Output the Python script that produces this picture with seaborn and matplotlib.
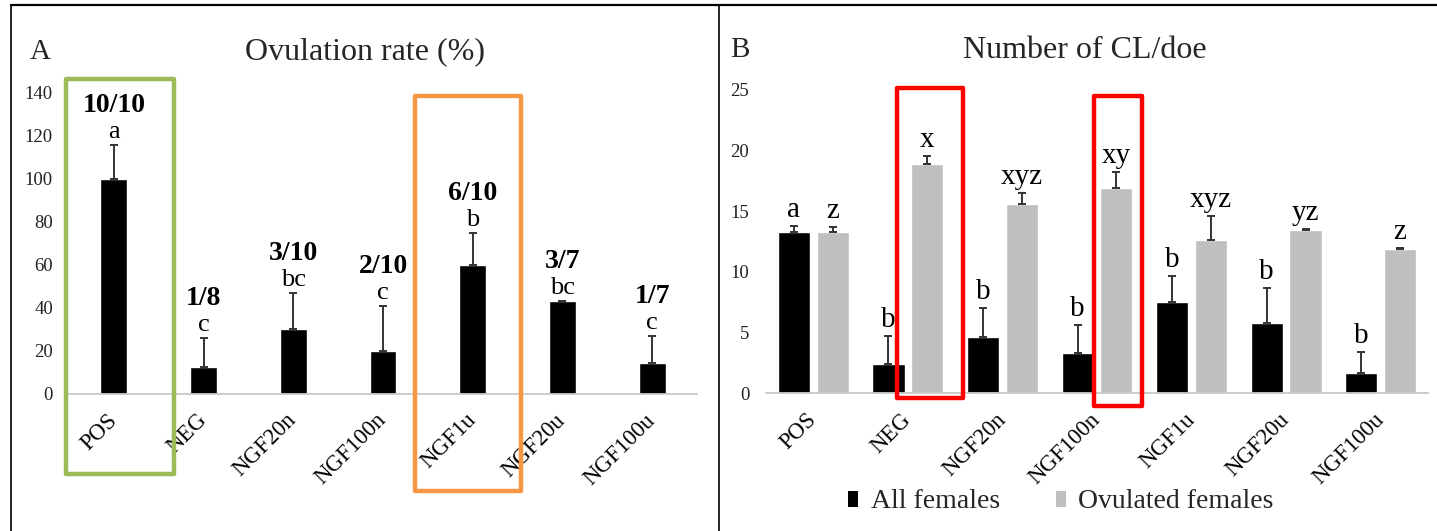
import numpy as np
import pandas as pd
import matplotlib
matplotlib.use("Agg")
import matplotlib.pyplot as plt
from matplotlib.patches import Rectangle, Patch
from matplotlib.lines import Line2D
import seaborn as sns

# ---------------- data ----------------
groups = ["POS", "NEG", "NGF20n", "NGF100n", "NGF1u", "NGF20u", "NGF100u"]

ovulation_rate = [100, 12.5, 30, 20, 60, 42.9, 14.3]
ovulation_err = [15.8, 13.4, 17, 20.5, 14.8, 0.3, 12.5]
ovulation_frac = ["10/10", "1/8", "3/10", "2/10", "6/10", "3/7", "1/7"]
ovulation_letters = ["a", "c", "bc", "c", "b", "bc", "c"]

series_names = ["All females", "Ovulated females"]
cl_all = [13.3, 2.4, 4.6, 3.3, 7.5, 5.8, 1.7]
cl_all_err = [0.45, 2.35, 2.45, 2.3, 2.2, 2.9, 1.7]
cl_all_letters = ["a", "b", "b", "b", "b", "b", "b"]
cl_ov = [13.3, 18.9, 15.6, 16.9, 12.6, 13.5, 11.9]
cl_ov_err = [0.4, 0.65, 0.95, 1.3, 2.0, 0.05, 0.05]
cl_ov_letters = ["z", "x", "xyz", "xy", "xyz", "yz", "z"]

yticks_a = [0, 20, 40, 60, 80, 100, 120, 140]
yticks_b = [0, 5, 10, 15, 20, 25]

# ---------------- style ----------------
sns.set_theme(style="white")
plt.rcParams["font.family"] = ["Liberation Serif", "DejaVu Serif"]

W, H = 1437, 531
fig = plt.figure(figsize=(W / 100, H / 100), dpi=100)

def fx(px):
    return px / W

def fy(py):
    return 1 - py / H

axA = fig.add_axes([fx(69), fy(393.5), fx(697) - fx(69), fy(92.7) - fy(393.5)])
axB = fig.add_axes([fx(766), fy(393.3), fx(1428) - fx(766), fy(90) - fy(393.3)])

GRAY = "#bfbfbf"
ERRC = "#333333"

# ---------------- panel A ----------------
df_a = pd.DataFrame({"group": groups, "rate": ovulation_rate})
sns.barplot(data=df_a, x="group", y="rate", color="black", saturation=1,
            width=0.3, errorbar=None, ax=axA)
xa = np.arange(len(groups))
axA.errorbar(xa, ovulation_rate, yerr=[np.zeros(len(xa)), ovulation_err],
             fmt="none", ecolor=ERRC, elinewidth=1.4, capsize=3, capthick=1.4)
for i in range(len(groups)):
    top = ovulation_rate[i] + ovulation_err[i]
    axA.annotate(ovulation_letters[i], (xa[i], top), xytext=(0, 2),
                 textcoords="offset pixels", ha="center", va="bottom",
                 fontsize=19, color="black")
    axA.annotate(ovulation_frac[i], (xa[i], top), xytext=(0, 27),
                 textcoords="offset pixels", ha="center", va="bottom",
                 fontsize=20, fontweight="bold", color="black")
axA.set_ylim(0, 140)
axA.set_yticks(yticks_a)
axA.set_xlim(-0.5, len(groups) - 0.5)

# ---------------- panel B ----------------
df_b = pd.DataFrame({
    "group": groups * 2,
    "cl": cl_all + cl_ov,
    "series": [series_names[0]] * len(groups) + [series_names[1]] * len(groups),
})
sns.barplot(data=df_b, x="group", y="cl", hue="series", hue_order=series_names,
            palette=["black", GRAY], saturation=1, width=0.82, gap=0.17,
            errorbar=None, legend=False, ax=axB)
for cont, vals, errs, lets in zip(axB.containers, [cl_all, cl_ov],
                                  [cl_all_err, cl_ov_err],
                                  [cl_all_letters, cl_ov_letters]):
    xs = [p.get_x() + p.get_width() / 2 for p in cont.patches]
    axB.errorbar(xs, vals, yerr=[np.zeros(len(xs)), errs], fmt="none",
                 ecolor=ERRC, elinewidth=1.4, capsize=3, capthick=1.4)
    for x, v, e, l in zip(xs, vals, errs, lets):
        axB.annotate(l, (x, v + e), xytext=(0, 3), textcoords="offset pixels",
                     ha="center", va="bottom", fontsize=21, color="black")
axB.set_ylim(0, 25)
axB.set_yticks(yticks_b)
axB.set_xlim(-0.5, len(groups) - 0.5)

# ---------------- common axes styling ----------------
for ax, ypad in ((axA, 11.5), (axB, 12)):
    ax.set_xlabel("")
    ax.set_ylabel("")
    for s in ("top", "right", "left"):
        ax.spines[s].set_visible(False)
    ax.spines["bottom"].set_color("#c8c8c8")
    ax.spines["bottom"].set_linewidth(1.3)
    ax.tick_params(axis="y", length=0, pad=ypad, labelsize=13.5, labelcolor="#222222")
    ax.tick_params(axis="x", length=0, pad=17, labelsize=16.5, labelcolor="black")
    ax.set_xticks(np.arange(len(groups)))
    ax.set_xticklabels(groups)
    plt.setp(ax.get_xticklabels(), rotation=45, ha="right", va="center",
             rotation_mode="anchor")
    ax.set_facecolor("none")

# titles
fig.text(fx(365), fy(52), "Ovulation rate (%)", ha="center", va="center", fontsize=23)
fig.text(fx(1085), fy(50), "Number of CL/doe", ha="center", va="center", fontsize=23)
fig.text(fx(40), fy(52), "A", ha="center", va="center", fontsize=21)
fig.text(fx(740), fy(50), "B", ha="center", va="center", fontsize=21)

# legend for panel B
handles = [Patch(facecolor="black", edgecolor="none"),
           Patch(facecolor=GRAY, edgecolor="none")]
fig.legend(handles, series_names, loc="center",
           bbox_to_anchor=(fx(1061), fy(502)), ncol=2, frameon=False,
           fontsize=20, handlelength=0.36, handleheight=0.5,
           handletextpad=0.45, columnspacing=2.0, borderaxespad=0, borderpad=0)

# highlight boxes (annotation overlays, in data coordinates of each panel)
def box(ax, x0, x1, y0, y1, color):
    ax.add_patch(Rectangle((x0, y0), x1 - x0, y1 - y0, fill=False,
                           edgecolor=color, linewidth=3.2, clip_on=False,
                           joinstyle="round", zorder=5))

box(axA, -0.533, 0.671, -37.5, 146.5, "#9bbb59")
box(axA, 3.357, 4.539, -45.4, 138.6, "#f79646")
box(axB, 0.885, 1.582, -0.39, 25.17, "#ff0000")
box(axB, 2.967, 3.475, -1.05, 24.51, "#ff0000")

# figure frame lines
fig.add_artist(Line2D([fx(11), 1], [fy(5), fy(5)], color="black", lw=1.6))
fig.add_artist(Line2D([fx(11), fx(11)], [fy(5), 0], color="black", lw=1.2))
fig.add_artist(Line2D([fx(719), fx(719)], [fy(5), 0], color="black", lw=1.2))

fig.savefig("out.png", dpi=100, facecolor="white")
